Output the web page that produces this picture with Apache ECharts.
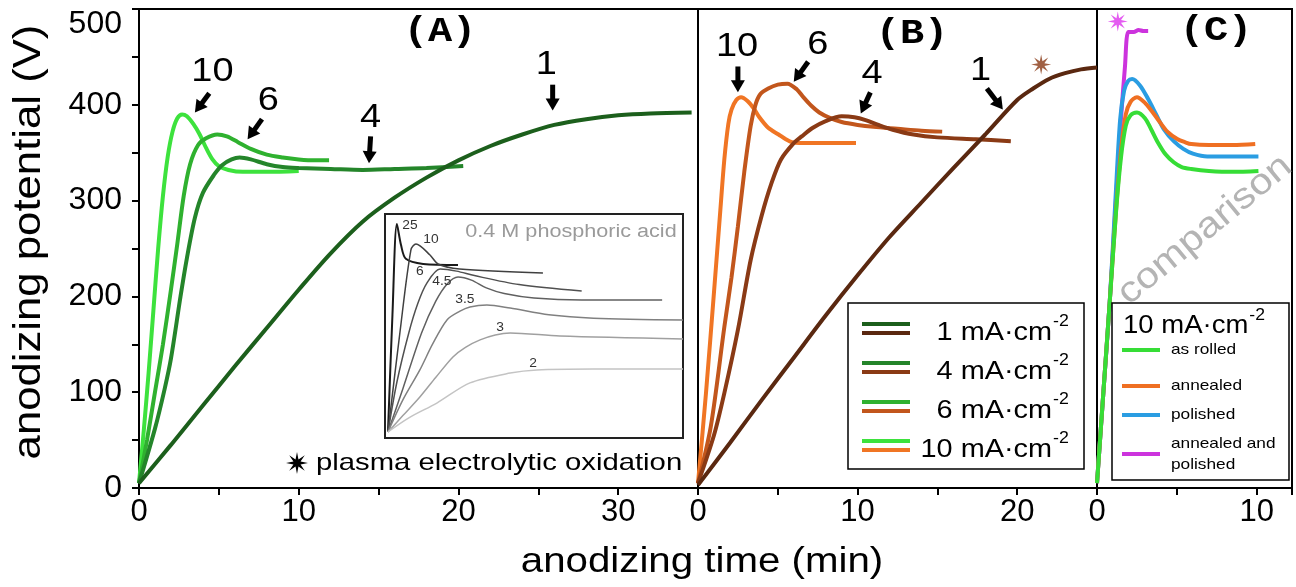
<!DOCTYPE html>
<html><head><meta charset="utf-8">
<script src="https://cdn.jsdelivr.net/npm/echarts@6/dist/echarts.min.js"></script>
<style>html,body{margin:0;padding:0;background:#fff}#c{width:1296px;height:587px}</style>
</head><body><div id="c"></div>
<script>
// ---------- DATA (time in min, potential in V) ----------
const A_1mA  = [[0,5],[2,45],[4,86],[6,127],[8,167],[10,207],[12,245],[14,278],[16,303],[18,324],[20,342],[22,357],[24,369],[26,379],[28,385],[30,389],[32,391],[34.6,392]];
const A_4mA  = [[0,5],[1,62],[1.6,103],[2,135],[2.6,200],[3,240],[3.5,282],[4,308],[4.7,327],[5.2,337],[5.8,343],[6.3,345],[7,343],[8,338],[9,335],[10,334],[12,333],[14,332],[16,333],[18,334],[20.3,336]];
const A_6mA  = [[0,5],[0.5,50],[1,100],[1.5,150],[2,207],[2.4,255],[2.8,305],[3.2,338],[3.7,358],[4.2,365],[4.9,369],[5.5,367],[6.2,361],[7,354],[8,348],[9,345],[10,343],[11,342],[11.9,342]];
const A_10mA = [[0,5],[0.3,60],[0.6,120],[0.9,185],[1.2,250],[1.5,305],[1.8,346],[2.1,372],[2.4,386],[2.7,390],[3.0,388],[3.4,380],[3.8,369],[4.2,355],[4.6,343],[5.0,336],[5.6,332],[6.5,330],[8,330],[10,331]];

const B_1mA  = [[0,3],[2,47],[4,92],[6,136],[8,180],[10,222],[12,262],[14,298],[16,334],[18,369],[20,405],[21,417],[22,427],[23,433],[24,437],[25,439]];
const B_4mA  = [[0,5],[1,55],[1.65,99],[2.5,165],[3.3,238],[4,285],[4.6,318],[5.2,343],[6,360],[6.5,367],[7.2,376],[8,383],[9,388],[9.8,387],[10.5,384],[11.3,379],[12.2,374],[13.5,369],[15,366],[17.4,364],[19.6,362]];
const B_6mA  = [[0,5],[0.8,64],[1.65,168],[2.1,220],[2.5,273],[2.9,330],[3.3,378],[3.6,400],[3.9,411],[4.4,417],[5.0,421],[5.6,422],[6.2,416],[6.6,408],[7.1,399],[7.6,392],[8.3,386],[9,382],[10,379],[11,377],[12.5,375],[14,373],[15.3,372]];
const B_10mA = [[0,5],[0.5,99],[1.0,204],[1.4,290],[1.65,343],[1.9,380],[2.1,395],[2.4,405],[2.7,408],[3.1,404],[3.5,396],[3.8,388],[4.4,376],[5.05,369],[5.5,364],[5.9,361],[7,360],[8.5,360],[9.9,360]];
const B_star = [[21.5,442]];

const C_rolled   = [[0,5],[0.4,100],[0.8,195],[1.2,290],[1.5,345],[1.8,378],[2.1,389],[2.5,392],[3.0,386],[3.4,374],[3.8,361],[4.3,348],[4.8,340],[5.3,335],[5.9,333],[7,331],[8.5,330],[10.1,331]];
const C_annealed = [[0,5],[0.4,100],[0.8,195],[1.2,292],[1.5,352],[1.8,390],[2.1,403],[2.5,408],[3.0,402],[3.4,394],[3.8,385],[4.4,372],[5.05,364],[5.5,361],[5.9,359],[7,358],[8.5,358],[9.9,359]];
const C_polished = [[0,5],[0.4,100],[0.8,195],[1.15,300],[1.45,385],[1.7,415],[1.95,425],[2.2,427],[2.7,420],[3.2,406],[3.7,390],[4.2,374],[4.8,362],[5.4,354],[6,349],[6.9,346],[8.5,346],[10.1,346]];
const C_annpol   = [[0,5],[0.4,100],[0.8,195],[1.2,305],[1.5,385],[1.75,440],[1.96,476],[2.3,476],[2.6,478],[2.9,477],[3.2,477]];
const C_star = [[1.3,487]];

// inset (arbitrary units, 0.4 M phosphoric acid)
const insetLabels = ['25','10','6','4.5','3.5','3','2'];
const I_25  = [[1,2.7],[2.5,55],[4,95.5],[5.4,86],[7,80],[12.8,77.7],[24.5,77.2]];
const I_10  = [[1,2.7],[5,47],[8.7,84],[10.4,86.6],[15.1,81.7],[17.8,77.7],[25,75.5],[53,73.7]];
const I_6   = [[1,2.7],[4,25],[8,47],[11,60],[14,69],[18.5,75.4],[24,74.5],[30,72.5],[45,68.5],[66,65.6]];
const I_4_5 = [[1,2.7],[6,22],[12.3,47],[17,61],[21,69],[24.5,71.9],[29,70.5],[34,67],[40,64.5],[50,62.5],[66,61.6],[93,61.6]];
const I_3_5 = [[1,2.7],[6,17],[11.7,30.4],[16,42],[20.8,52.7],[25,56.5],[28.5,58.5],[34.2,59.4],[42,58],[55,55],[70,53.5],[100,52.7]];
const I_3   = [[1,2.7],[6,10],[11.7,18.3],[17,27],[22.8,36.2],[27,40.5],[31.9,43.8],[37,46],[42,46.9],[58.7,45.5],[100,44.2]];
const I_2   = [[1,2.7],[8,9],[17.4,15.6],[28.5,24.6],[42,29],[51,30.4],[70,30.8],[100,30.8]];

const legendB = ['1 mA\u00b7cm', '4 mA\u00b7cm', '6 mA\u00b7cm', '10 mA\u00b7cm'];
const legendC = ['as rolled', 'annealed', 'polished', 'annealed and\npolished'];
const unitSup = '-2';

// ---------- STYLE ----------
const greens  = ['#1c5f1c', '#24852a', '#2fb12f', '#3de23d'];
const browns  = ['#5a2810', '#8a3a15', '#c2561c', '#f07524'];
const cCols   = ['#36dd36', '#ef6f22', '#2a9de2', '#cc33dd'];
const grays   = ['#1a1a1a', '#404040', '#505050', '#606060', '#808080', '#a0a0a0', '#c4c4c4'];
const FONT = 'Liberation Sans, Arial, sans-serif';
const SX = 1.15;

const mctx = document.createElement('canvas').getContext('2d');
function measure(text, size) { mctx.font = size + 'px ' + FONT; return mctx.measureText(text).width; }

function starPts(cx, cy, R) {
  const pts = [];
  for (let i = 0; i < 16; i++) {
    const r = i % 2 ? R * 0.35 : R, a = Math.PI * i / 8 - Math.PI / 2;
    pts.push([cx + r * Math.cos(a), cy + r * Math.sin(a)]);
  }
  return pts;
}
const STAR = 'path://' + starPts(10, 10, 10).map((p, i) => (i ? 'L' : 'M') + p[0].toFixed(2) + ' ' + p[1].toFixed(2)).join(' ') + ' Z';

const chart = echarts.init(document.getElementById('c'), null, {renderer: 'canvas'});

const gridBase = {show: true, borderColor: '#000', borderWidth: 2, backgroundColor: 'transparent'};
function xAx(gi, max) {
  return {gridIndex: gi, type: 'value', min: 0, max: max, interval: 5,
    axisLine: {lineStyle: {color: '#000', width: 2}},
    axisTick: {length: 7, lineStyle: {color: '#000', width: 2}},
    splitLine: {show: false},
    axisLabel: {fontSize: 31, fontFamily: FONT, color: '#000', margin: 9,
      formatter: v => ((v % 10 === 0) && v <= max - 1) ? String(v) : ''}};
}
function line(gi, data, color, w, z) {
  return {type: 'line', xAxisIndex: gi, yAxisIndex: gi, data: data, showSymbol: false, smooth: 0.3,
    lineStyle: {color: color, width: w}, itemStyle: {color: color}, z: z || 2, silent: true, animation: false};
}

const series = [
  line(0, A_10mA, greens[3], 4, 2), line(0, A_6mA, greens[2], 4, 3), line(0, A_4mA, greens[1], 4, 4), line(0, A_1mA, greens[0], 4, 5),
  line(1, B_10mA, browns[3], 4, 2), line(1, B_6mA, browns[2], 4, 3), line(1, B_4mA, browns[1], 4, 4), line(1, B_1mA, browns[0], 4, 5),
  {type: 'scatter', xAxisIndex: 1, yAxisIndex: 1, data: B_star, symbol: STAR, symbolSize: 20, itemStyle: {color: browns[1]}, silent: true, animation: false},
  line(2, C_annpol, cCols[3], 4, 2), line(2, C_polished, cCols[2], 4, 3), line(2, C_annealed, cCols[1], 4, 4), line(2, C_rolled, cCols[0], 4, 5),
  {type: 'scatter', xAxisIndex: 2, yAxisIndex: 2, data: C_star, symbol: STAR, symbolSize: 20, itemStyle: {color: '#dd33ee'}, silent: true, animation: false}
];
const insetData = [I_25, I_10, I_6, I_4_5, I_3_5, I_3, I_2];
insetData.forEach((d, i) => series.push(line(3, d, grays[i], i === 0 ? 2 : 1.5, 10)));

chart.setOption({
  animation: false,
  grid: [
    Object.assign({left: 139, top: 9, width: 559, height: 479}, gridBase),
    Object.assign({left: 698, top: 9, width: 399, height: 479}, gridBase),
    Object.assign({left: 1097, top: 9, width: 195, height: 479}, gridBase),
    {left: 385, top: 214, width: 298, height: 224, show: true, borderColor: '#222', borderWidth: 2, backgroundColor: '#fff', z: 5}
  ],
  xAxis: [xAx(0, 35), xAx(1, 25), xAx(2, 12.2),
    {gridIndex: 3, type: 'value', min: 0, max: 100, show: false}],
  yAxis: [
    {gridIndex: 0, type: 'value', min: 0, max: 500, interval: 50,
      axisLine: {show: true, lineStyle: {color: '#000', width: 2}},
      axisTick: {show: true, length: 7, lineStyle: {color: '#000', width: 2}},
      splitLine: {show: false},
      axisLabel: {fontSize: 32, fontFamily: FONT, color: '#000', margin: 17,
        formatter: v => v % 100 ? '' : (v === 500 ? '{t|500}' : String(v)),
        rich: {t: {fontSize: 32, fontFamily: FONT, color: '#000', padding: [30, 0, 0, 0]}}}},
    {gridIndex: 1, type: 'value', min: 0, max: 500, show: false},
    {gridIndex: 2, type: 'value', min: 0, max: 500, show: false},
    {gridIndex: 3, type: 'value', min: 0, max: 100, show: false}
  ],
  series: series
});

// ---------- annotations (graphic) ----------
const P = (gi, pt) => chart.convertToPixel({gridIndex: gi}, pt);
const g = [];
function arrow(gi, tail, tip) {
  const a = P(gi, tail), b = P(gi, tip);
  const dx = b[0] - a[0], dy = b[1] - a[1], L = Math.hypot(dx, dy), ux = dx / L, uy = dy / L;
  const hl = 12, hw = 7, bx = b[0] - ux * hl, by = b[1] - uy * hl;
  g.push({type: 'line', z: 50, shape: {x1: a[0], y1: a[1], x2: bx + ux, y2: by + uy}, style: {stroke: '#000', lineWidth: 5}});
  g.push({type: 'polygon', z: 50, shape: {points: [[b[0], b[1]], [bx - uy * hw, by + ux * hw], [bx + uy * hw, by - ux * hw]]}, style: {fill: '#000'}});
}
function txt(x, y, text, size, opts) {
  opts = opts || {};
  g.push(Object.assign({type: 'text', z: 60, x: x, y: y, scaleX: SX,
    style: Object.assign({text: text, fill: '#000', fontSize: size, fontFamily: FONT, align: 'center', verticalAlign: 'middle'}, opts.style || {})},
    opts.el || {}));
}
const annots = [
  {gi: 0, t: '10', at: [4.6, 434], tail: [4.4, 412], tip: [3.5, 392]},
  {gi: 0, t: '6',  at: [8.1, 404], tail: [7.7, 385], tip: [6.8, 364]},
  {gi: 0, t: '4',  at: [14.5, 386], tail: [14.5, 367], tip: [14.4, 339]},
  {gi: 0, t: '1',  at: [25.5, 442], tail: [25.9, 421], tip: [25.9, 394]},
  {gi: 1, t: '10', at: [2.45, 460], tail: [2.5, 440], tip: [2.5, 413]},
  {gi: 1, t: '6',  at: [7.5, 463], tail: [6.9, 445], tip: [6.0, 424]},
  {gi: 1, t: '4',  at: [10.9, 432], tail: [10.8, 413], tip: [10.2, 391]},
  {gi: 1, t: '1',  at: [17.7, 435], tail: [18.1, 417], tip: [19.1, 395]}
];
annots.forEach(a => { const p = P(a.gi, a.at); txt(p[0], p[1], a.t, 33); arrow(a.gi, a.tail, a.tip); });

// panel titles
const MONO = 'Liberation Mono, Courier New, monospace';
[['(A)', 440, 32], ['(B)', 912, 34], ['(C)', 1216, 31]].forEach(t =>
  txt(t[1], t[2], t[0], 35, {style: {fontFamily: MONO, fontWeight: 'bold'}}));

// axis titles
txt(30, 242, 'anodizing potential (V)', 38, {el: {rotation: Math.PI / 2}});
txt(702, 562, 'anodizing time (min)', 35);

// inset texts
txt(571, 232, '0.4 M phosphoric acid', 18, {style: {fill: '#9a9a9a'}, el: {scaleX: 1.2}});
const insetLabelPos = [[8.4, 95], [15.4, 88.4], [11.7, 74.1], [19.1, 69.6], [26.8, 61.6], [38.6, 49.1], [49.7, 33]];
insetLabels.forEach((l, i) => { const p = P(3, insetLabelPos[i]); txt(p[0], p[1], l, 12, {style: {fill: '#333'}}); });

// PEO legend in A
g.push({type: 'polygon', z: 60, shape: {points: starPts(297, 463, 11)}, style: {fill: '#000'}});
txt(316, 463, 'plasma electrolytic oxidation', 24, {style: {align: 'left'}, el: {scaleX: 1.22}});

// unit text with superscript
function unitText(x, y, main, size, sx, align) {
  const w = measure(main, size) * sx;
  const left = align === 'right' ? x - w : x;
  txt(left, y, main, size, {style: {align: 'left'}, el: {scaleX: sx}});
  txt(left + w + 1, y - size * 0.42, unitSup, Math.round(size * 0.62), {style: {align: 'left'}, el: {scaleX: sx}});
}

// legend B
g.push({type: 'rect', z: 40, shape: {x: 848, y: 303, width: 236, height: 166}, style: {fill: '#fff', stroke: '#000', lineWidth: 1.5}});
const rowY = [329, 368, 407, 446];
legendB.forEach((l, i) => {
  const y = rowY[i];
  g.push({type: 'line', z: 45, shape: {x1: 862, y1: y - 5, x2: 910, y2: y - 5}, style: {stroke: greens[i], lineWidth: 4}});
  g.push({type: 'line', z: 45, shape: {x1: 862, y1: y + 4, x2: 910, y2: y + 4}, style: {stroke: browns[i], lineWidth: 4}});
  unitText(1052, y + 4, l, 26, 1.11, 'right');
});

// legend C
g.push({type: 'rect', z: 40, shape: {x: 1112, y: 303, width: 177, height: 177}, style: {fill: '#fff', stroke: '#000', lineWidth: 1.5}});
unitText(1123, 326, '10 mA\u00b7cm', 25, 1.1, 'left');
const rowC = [350, 386, 415, 454];
legendC.forEach((l, i) => {
  g.push({type: 'line', z: 45, shape: {x1: 1122, y1: rowC[i], x2: 1160, y2: rowC[i]}, style: {stroke: cCols[i], lineWidth: 4}});
  txt(1171, rowC[i], l, 15, {style: {align: 'left', lineHeight: 21}});
});

// comparison watermark
txt(1205, 230, 'comparison', 36, {style: {fill: '#b4b4b4'}, el: {rotation: 0.69}});

chart.setOption({graphic: g});
</script></body></html>
